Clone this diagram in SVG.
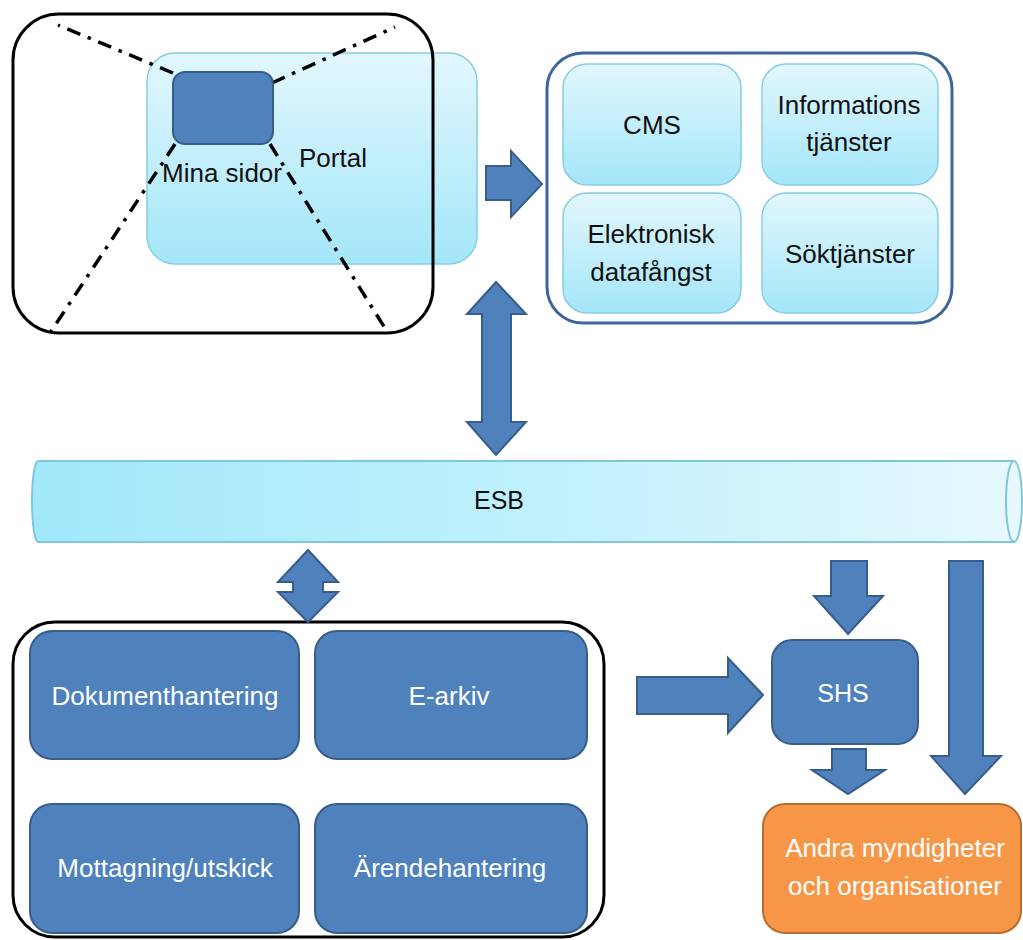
<svg xmlns="http://www.w3.org/2000/svg" width="1023" height="940" viewBox="0 0 1023 940">
  <defs>
    <linearGradient id="gradLight" x1="0" y1="0" x2="0" y2="1">
      <stop offset="0" stop-color="#e2f7fd"/>
      <stop offset="1" stop-color="#a4e6f9"/>
    </linearGradient>
    <linearGradient id="gradBus" x1="0" y1="0" x2="1" y2="0">
      <stop offset="0" stop-color="#a2e8fb"/>
      <stop offset="0.5" stop-color="#bff0fc"/>
      <stop offset="1" stop-color="#e6f8fd"/>
    </linearGradient>
    <style>
      text { font-family: "Liberation Sans", Arial, sans-serif; text-anchor: middle; }
      .dark { fill: #111111; font-size: 26px; }
      .white { fill: #ffffff; font-size: 26px; }
      .frame { fill: none; stroke: #000000; stroke-width: 3; }
      .light { fill: url(#gradLight); stroke: #88cde0; stroke-width: 1.5; }
      .blue { fill: #4f81bd; stroke: #385d8a; stroke-width: 2; }
      .orange { fill: #f79646; stroke: #b66d31; stroke-width: 2; }
      .arrow { fill: #4f81bd; stroke: #385d8a; stroke-width: 2; stroke-linejoin: miter; }
      .dashdot { fill: none; stroke: #000000; stroke-width: 3.5; stroke-dasharray: 14 8 3.5 8; }
    </style>
  </defs>

  <!-- Portal and Mina sidor -->
  <g id="portal">
    <rect class="light" x="147" y="53" width="330" height="211" rx="28" ry="28"/>
    <text class="dark" x="333" y="167">Portal</text>
  </g>
  <g id="portal-frame">
    <rect class="frame" x="13" y="14" width="420" height="319" rx="46" ry="46"/>
    <line class="dashdot" x1="173" y1="73" x2="58" y2="25"/>
    <line class="dashdot" x1="272" y1="83" x2="395" y2="27"/>
    <line class="dashdot" x1="175" y1="144" x2="50" y2="333"/>
    <line class="dashdot" x1="270" y1="144" x2="388" y2="333"/>
  </g>
  <g id="mina-sidor">
    <rect class="blue" x="173" y="72" width="100" height="72" rx="12" ry="12"/>
    <text class="dark" x="222" y="182">Mina sidor</text>
  </g>

  <!-- Services group -->
  <g id="services">
    <rect x="547" y="53" width="405" height="270" rx="36" ry="36" fill="#ffffff" stroke="#3e659b" stroke-width="3"/>
  </g>
  <g id="cms">
    <rect class="light" x="563" y="64" width="178" height="121" rx="24" ry="24"/>
    <text class="dark" x="652" y="134">CMS</text>
  </g>
  <g id="informationstjanster">
    <rect class="light" x="762" y="64" width="176" height="121" rx="24" ry="24"/>
    <text class="dark" x="849" y="114">Informations</text>
    <text class="dark" x="849" y="151">tjänster</text>
  </g>
  <g id="datafangst">
    <rect class="light" x="563" y="193" width="178" height="120" rx="24" ry="24"/>
    <text class="dark" x="651" y="243">Elektronisk</text>
    <text class="dark" x="651" y="281">datafångst</text>
  </g>
  <g id="soktjanster">
    <rect class="light" x="762" y="193" width="176" height="120" rx="24" ry="24"/>
    <text class="dark" x="850" y="263">Söktjänster</text>
  </g>

  <!-- Enterprise service bus drawn as a lying cylinder -->
  <g id="esb">
    <path d="M1014,461 L38,461 A6,40.5 0 0 0 38,542 L1014,542 Z" fill="url(#gradBus)" stroke="#7fc7db" stroke-width="2"/>
    <ellipse cx="1014" cy="501.5" rx="8" ry="40.5" fill="#e6f8fd" stroke="#7fc7db" stroke-width="2"/>
    <text class="dark" x="499" y="509" style="font-size:25px">ESB</text>
  </g>

  <!-- Back-office systems -->
  <g id="backoffice">
    <rect class="frame" x="13" y="622" width="591" height="315" rx="42" ry="42"/>
  </g>
  <g id="dokumenthantering">
    <rect class="blue" x="30" y="631" width="269" height="128" rx="22" ry="22"/>
    <text class="white" x="165" y="705">Dokumenthantering</text>
  </g>
  <g id="earkiv">
    <rect class="blue" x="315" y="631" width="272" height="128" rx="22" ry="22"/>
    <text class="white" x="449" y="705">E-arkiv</text>
  </g>
  <g id="mottagning">
    <rect class="blue" x="30" y="804" width="269" height="129" rx="22" ry="22"/>
    <text class="white" x="165" y="877">Mottagning/utskick</text>
  </g>
  <g id="arendehantering">
    <rect class="blue" x="315" y="804" width="272" height="129" rx="22" ry="22"/>
    <text class="white" x="450" y="877">Ärendehantering</text>
  </g>

  <!-- Message exchange -->
  <g id="shs">
    <rect class="blue" x="772" y="640" width="146" height="104" rx="20" ry="20"/>
    <text class="white" x="843" y="702" style="font-size:25px">SHS</text>
  </g>
  <g id="andra">
    <rect class="orange" x="763" y="804" width="258" height="129" rx="22" ry="22"/>
    <text class="white" x="895" y="857">Andra myndigheter</text>
    <text class="white" x="895" y="895">och organisationer</text>
  </g>

  <!-- Block arrows -->
  <g id="connectors">
    <path class="arrow" d="M486,166 L511,166 L511,151 L542,184 L511,217 L511,200 L486,200 Z"/>
    <path class="arrow" d="M496,282 L526,314 L511,314 L511,422 L526,422 L496,455 L467,422 L482,422 L482,314 L467,314 Z"/>
    <path class="arrow" d="M308,550 L338,582 L323,582 L323,592 L338,592 L308,622 L278,592 L293,592 L293,582 L278,582 Z"/>
    <path class="arrow" d="M637,677 L728,677 L728,658 L763,695 L728,733 L728,714 L637,714 Z"/>
    <path class="arrow" d="M831,561 L867,561 L867,596 L883,596 L848,634 L814,596 L831,596 Z"/>
    <path class="arrow" d="M832,749 L866,749 L866,770 L885,770 L848,794 L812,770 L832,770 Z"/>
    <path class="arrow" d="M949,561 L983,561 L983,756 L1001,756 L965,794 L931,756 L949,756 Z"/>
  </g>
</svg>
